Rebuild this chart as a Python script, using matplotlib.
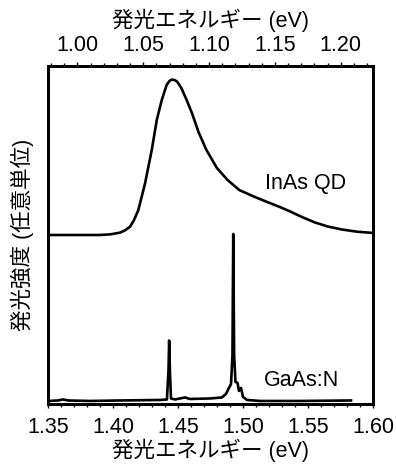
import matplotlib
matplotlib.use("Agg")
import matplotlib.pyplot as plt
from matplotlib.ticker import MultipleLocator

plt.rcParams["font.family"] = ["Liberation Sans", "Noto Sans CJK JP"]

# InAs QD spectrum, read against the top energy axis (eV), normalised to peak
inas_energy = [0.978, 1.017, 1.025, 1.0324, 1.0362, 1.0400, 1.0430, 1.0463,
               1.0487, 1.0514, 1.0565, 1.0603, 1.0641, 1.0678, 1.0700, 1.0717,
               1.0740, 1.0760, 1.0790, 1.0830, 1.0870, 1.0920, 1.0980, 1.1060,
               1.1140, 1.1230, 1.1330, 1.1440, 1.1539, 1.1615, 1.1714, 1.1805,
               1.1903, 1.2010, 1.2124, 1.2245]
inas_intensity = [0.0, 0.0, 0.004, 0.015, 0.030, 0.053, 0.095, 0.160,
                  0.240, 0.331, 0.545, 0.737, 0.865, 0.962, 0.988, 0.996,
                  0.993, 0.981, 0.942, 0.865, 0.782, 0.660, 0.545, 0.429,
                  0.353, 0.288, 0.250, 0.212, 0.179, 0.151, 0.112, 0.080,
                  0.054, 0.035, 0.021, 0.013]

# GaAs:N spectrum, read against the bottom energy axis (eV), normalised to peak
gaas_energy = [1.3500, 1.3577, 1.3615, 1.3654, 1.3823, 1.4054, 1.4362, 1.4415,
               1.4427, 1.4432, 1.4438, 1.4446, 1.4477, 1.4554, 1.4592, 1.4746,
               1.4838, 1.4869, 1.4892, 1.4908, 1.4919, 1.4925, 1.4932, 1.4942,
               1.4958, 1.4969, 1.4985, 1.5000, 1.5031, 1.5131, 1.5438, 1.5831]
gaas_intensity = [0.0, 0.003, 0.009, 0.003, 0.0, 0.003, 0.006, 0.009,
                  0.186, 0.362, 0.174, 0.015, 0.009, 0.021, 0.012, 0.015,
                  0.021, 0.042, 0.078, 0.102, 0.275, 1.0, 0.275, 0.114,
                  0.108, 0.060, 0.078, 0.024, 0.006, 0.0, 0.0, 0.003]

bottom_xlim = (1.35, 1.60)
top_xlim = (0.9777, 1.2245)
bottom_ticks = [1.35, 1.40, 1.45, 1.50, 1.55, 1.60]
top_ticks = [1.00, 1.05, 1.10, 1.15, 1.20]

FS = 15.5
LW = 1.9

fig = plt.figure(figsize=(3.96, 4.68), dpi=100)
ax = fig.add_axes([0.1212, 0.1368, 0.8207, 0.7222])
ax_top = ax.twiny()

ax.plot(gaas_energy, [0.0089 + 0.494 * v for v in gaas_intensity], color="black", lw=LW)
ax_top.plot(inas_energy, [0.5 + 0.4615 * v for v in inas_intensity], color="black", lw=LW)

ax.set_xlim(*bottom_xlim)
ax_top.set_xlim(*top_xlim)
ax.set_ylim(0, 1)
ax.set_yticks([])

ax.set_xticks(bottom_ticks, [f"{t:.2f}" for t in bottom_ticks])
ax_top.set_xticks(top_ticks, [f"{t:.2f}" for t in top_ticks])
for a, pad in ((ax, 6), (ax_top, 4)):
    a.xaxis.set_minor_locator(MultipleLocator(0.01))
    a.tick_params(axis="x", which="major", direction="out", length=3.2, width=1.0,
                  labelsize=FS, pad=pad)
    a.tick_params(axis="x", which="minor", direction="out", length=2.0, width=1.0)
    for s in a.spines.values():
        s.set_linewidth(2.0)

ax.set_xlabel("発光エネルギー (eV)", fontsize=FS, labelpad=1)
ax_top.set_xlabel("発光エネルギー (eV)", fontsize=FS, labelpad=6)
ax.set_ylabel("発光強度 (任意単位)", fontsize=FS, labelpad=10)

ax.text(0.668, 0.651, "InAs QD", transform=ax.transAxes, fontsize=FS,
        ha="left", va="center")
ax.text(0.664, 0.069, "GaAs:N", transform=ax.transAxes, fontsize=FS,
        ha="left", va="center")

fig.savefig("out.png", dpi=100)
